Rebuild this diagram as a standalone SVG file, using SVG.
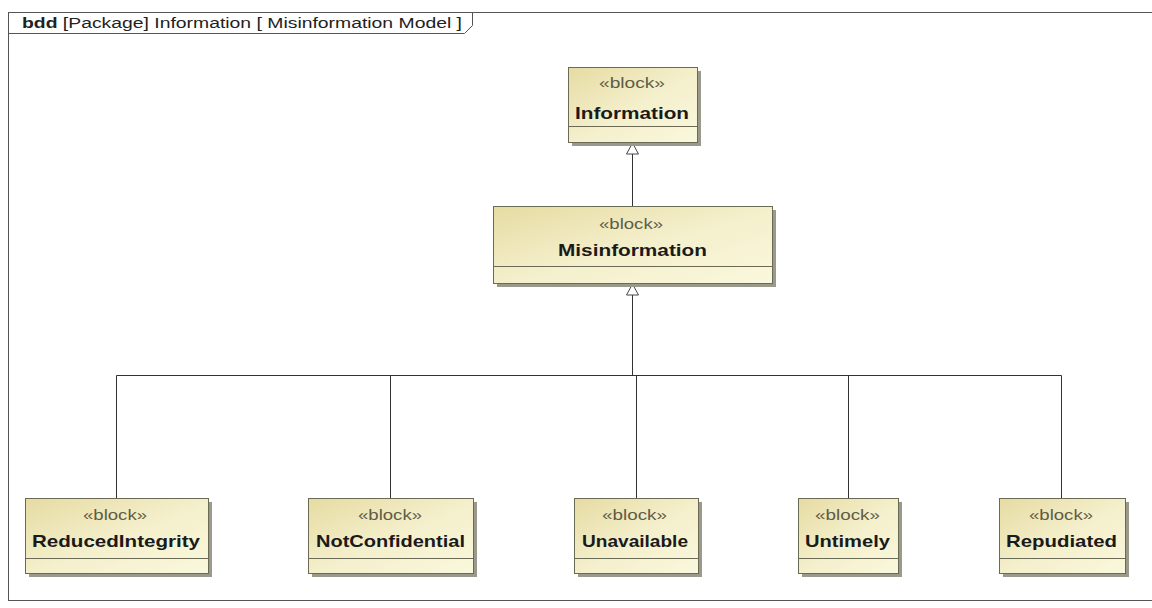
<svg xmlns="http://www.w3.org/2000/svg" width="1152" height="608" viewBox="0 0 1152 608">
  <defs>
    <linearGradient id="blockFill" x1="0" y1="0" x2="1" y2="1">
      <stop offset="0" stop-color="#e6dba2"/>
      <stop offset="0.5" stop-color="#f4efcb"/>
      <stop offset="1" stop-color="#faf8dd"/>
    </linearGradient>
    <!-- hollow generalization triangle, tip at the end of the line -->
    <marker id="generalization" viewBox="0 0 12 14" refX="11.5" refY="7" markerWidth="12" markerHeight="14" markerUnits="userSpaceOnUse" orient="auto">
      <path d="M11.5,7 L0.5,1 L0.5,13 Z" fill="#ffffff" stroke="#444444" stroke-width="1"/>
    </marker>
  </defs>
  <style>
    .frame { fill: none; stroke: #555555; stroke-width: 1; }
    .shadow { fill: #9a9a8c; }
    .box { fill: url(#blockFill); stroke: #6b6b55; stroke-width: 1; }
    .sep { stroke: #6b6b55; stroke-width: 1; }
    .stereo { font-family: "Liberation Sans", Arial, sans-serif; font-size: 14px; fill: #5e5c44; }
    .name { font-family: "Liberation Sans", Arial, sans-serif; font-size: 17px; font-weight: bold; fill: #1a1a1a; }
    .title { font-family: "Liberation Sans", Arial, sans-serif; font-size: 14px; fill: #222222; }
    .edge { fill: none; stroke: #333333; stroke-width: 1; }
  </style>

  <rect width="1152" height="608" fill="#ffffff"/>

  <!-- diagram frame with its name tab -->
  <g id="frame">
    <rect class="frame" x="8.5" y="12.5" width="1150" height="588"/>
    <path class="frame" d="M8.5,33.5 H464.5 L472.5,25.5 V12.5"/>
    <text class="title" x="22" y="28" textLength="440" lengthAdjust="spacingAndGlyphs"><tspan font-weight="bold">bdd</tspan> [Package] Information [ Misinformation Model ]</text>
  </g>

  <!-- generalization connectors -->
  <g id="connectors">
    <line class="edge" x1="632.5" y1="206" x2="632.5" y2="143" marker-end="url(#generalization)"/>
    <line class="edge" x1="632.5" y1="375" x2="632.5" y2="284" marker-end="url(#generalization)"/>
    <path class="edge" d="M116.5,498 V375.5 H1061.5 V498"/>
    <line class="edge" x1="390.5" y1="375" x2="390.5" y2="498"/>
    <line class="edge" x1="636.5" y1="375" x2="636.5" y2="498"/>
    <line class="edge" x1="848.5" y1="375" x2="848.5" y2="498"/>
  </g>

  <g id="Information">
    <rect class="shadow" x="572" y="71" width="129" height="75"/>
    <rect class="box" x="568.5" y="67.5" width="129" height="75"/>
    <line class="sep" x1="568.5" y1="126.5" x2="697.5" y2="126.5"/>
    <text class="stereo" x="599" y="88" textLength="66" lengthAdjust="spacingAndGlyphs">«block»</text>
    <text class="name" x="575" y="119" textLength="114" lengthAdjust="spacingAndGlyphs">Information</text>
  </g>

  <g id="Misinformation">
    <rect class="shadow" x="497" y="210" width="279" height="77"/>
    <rect class="box" x="493.5" y="206.5" width="279" height="77"/>
    <line class="sep" x1="493.5" y1="266.5" x2="772.5" y2="266.5"/>
    <text class="stereo" x="599" y="229" textLength="64" lengthAdjust="spacingAndGlyphs">«block»</text>
    <text class="name" x="558" y="256" textLength="149" lengthAdjust="spacingAndGlyphs">Misinformation</text>
  </g>

  <g id="ReducedIntegrity">
    <rect class="shadow" x="29" y="502" width="183" height="75"/>
    <rect class="box" x="25.5" y="498.5" width="183" height="75"/>
    <line class="sep" x1="25.5" y1="558.5" x2="208.5" y2="558.5"/>
    <text class="stereo" x="83" y="520" textLength="64" lengthAdjust="spacingAndGlyphs">«block»</text>
    <text class="name" x="32" y="547" textLength="168" lengthAdjust="spacingAndGlyphs">ReducedIntegrity</text>
  </g>

  <g id="NotConfidential">
    <rect class="shadow" x="312" y="502" width="165" height="75"/>
    <rect class="box" x="308.5" y="498.5" width="165" height="75"/>
    <line class="sep" x1="308.5" y1="558.5" x2="473.5" y2="558.5"/>
    <text class="stereo" x="358" y="520" textLength="64" lengthAdjust="spacingAndGlyphs">«block»</text>
    <text class="name" x="316" y="547" textLength="149" lengthAdjust="spacingAndGlyphs">NotConfidential</text>
  </g>

  <g id="Unavailable">
    <rect class="shadow" x="578" y="502" width="124" height="75"/>
    <rect class="box" x="574.5" y="498.5" width="124" height="75"/>
    <line class="sep" x1="574.5" y1="558.5" x2="698.5" y2="558.5"/>
    <text class="stereo" x="602" y="520" textLength="65" lengthAdjust="spacingAndGlyphs">«block»</text>
    <text class="name" x="582" y="547" textLength="106" lengthAdjust="spacingAndGlyphs">Unavailable</text>
  </g>

  <g id="Untimely">
    <rect class="shadow" x="802" y="502" width="100" height="75"/>
    <rect class="box" x="798.5" y="498.5" width="100" height="75"/>
    <line class="sep" x1="798.5" y1="558.5" x2="898.5" y2="558.5"/>
    <text class="stereo" x="815" y="520" textLength="65" lengthAdjust="spacingAndGlyphs">«block»</text>
    <text class="name" x="805" y="547" textLength="85" lengthAdjust="spacingAndGlyphs">Untimely</text>
  </g>

  <g id="Repudiated">
    <rect class="shadow" x="1003" y="502" width="126" height="75"/>
    <rect class="box" x="999.5" y="498.5" width="126" height="75"/>
    <line class="sep" x1="999.5" y1="558.5" x2="1125.5" y2="558.5"/>
    <text class="stereo" x="1029" y="520" textLength="64" lengthAdjust="spacingAndGlyphs">«block»</text>
    <text class="name" x="1006" y="547" textLength="111" lengthAdjust="spacingAndGlyphs">Repudiated</text>
  </g>
</svg>
